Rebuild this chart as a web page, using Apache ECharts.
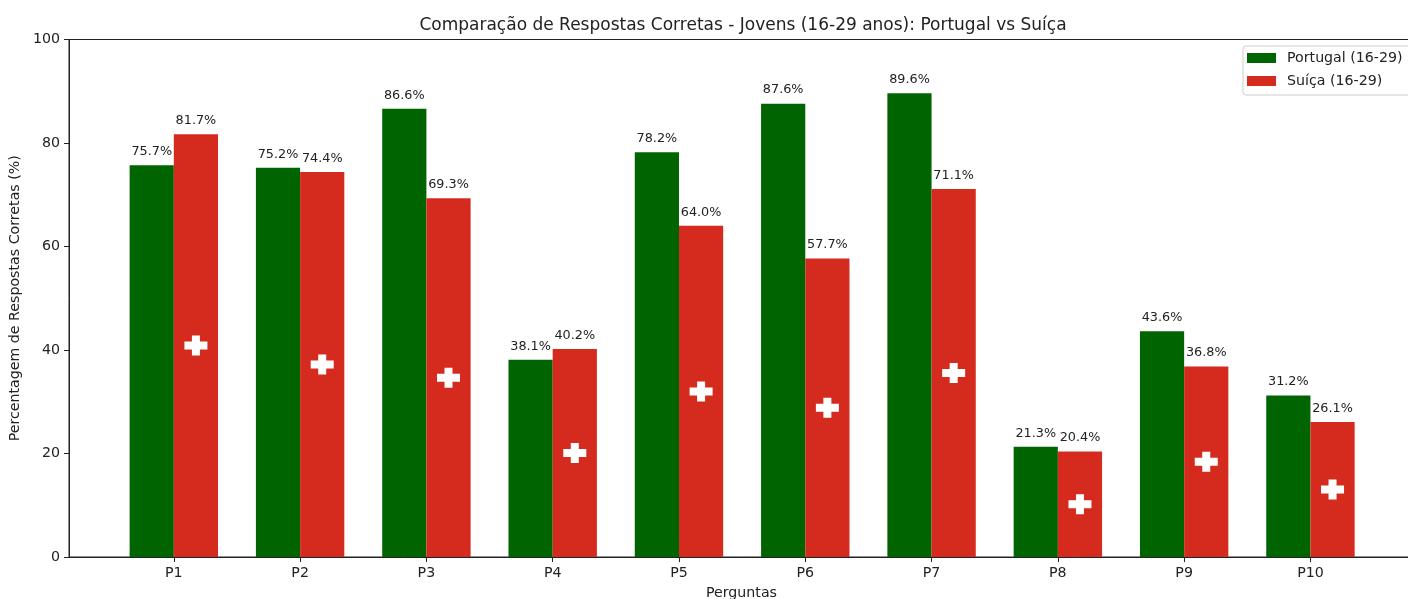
<!DOCTYPE html>
<html><head><meta charset="utf-8">
<style>html,body{margin:0;padding:0;background:#fff}#c{width:1408px;height:599px}</style>
<script src="https://cdn.jsdelivr.net/npm/echarts@6/dist/echarts.min.js"></script>
</head><body><div id="c"></div>
<script>
const categories = ['P1','P2','P3','P4','P5','P6','P7','P8','P9','P10'];
const portugal = [75.7,75.2,86.6,38.1,78.2,87.6,89.6,21.3,43.6,31.2];
const suica = [81.7,74.4,69.3,40.2,64.0,57.7,71.1,20.4,36.8,26.1];
const yTicks = [0,20,40,60,80,100];
const FONT = '"DejaVu Sans", sans-serif';
const GREEN = '#006400', RED = '#D52B1E', INK = '#222';
const BAR = 0.35;
const plus = 'path://M7.5,0H15.5V6H23V14H15.5V20H7.5V14H0V6H7.5Z';
const positions = categories.map((_, i) => i);

const chart = echarts.init(document.getElementById('c'), null, {renderer:'canvas'});
const lab = {show:true, position:'top', distance:7, color:INK, fontFamily:FONT, fontSize:12.8,
  formatter:p => p.value[1].toFixed(1) + '%'};
chart.setOption({
  animation:false,
  backgroundColor:'#fff',
  title:{text:'Comparação de Respostas Corretas - Jovens (16-29 anos): Portugal vs Suíça',
    left:738, top:12, textAlign:'center',
    textStyle:{fontFamily:FONT, fontSize:17, fontWeight:'normal', color:INK}},
  legend:{left:1243, top:46, orient:'vertical', data:['Portugal (16-29)','Suíça (16-29)'], icon:'rect',
    itemWidth:29, itemHeight:10, itemGap:9, padding:[5,12,7,4], borderColor:'#ccc', borderWidth:1, borderRadius:3,
    backgroundColor:'#fff', textStyle:{fontFamily:FONT, fontSize:14.2, color:INK, padding:[0,0,0,6]}},
  grid:{left:69, top:39.5, right:-6, bottom:42, show:true, borderColor:INK, borderWidth:1, outerBoundsMode:'none'},
  xAxis:{type:'value', min:-0.83, max:9.82, splitLine:{show:false},
    name:'Perguntas', nameLocation:'middle', nameGap:29,
    nameTextStyle:{fontFamily:FONT, fontSize:14.2, color:INK},
    axisLine:{show:true, onZero:false, lineStyle:{color:INK}},
    axisTick:{show:true, length:5, lineStyle:{color:INK}, customValues:positions},
    axisLabel:{color:INK, fontFamily:FONT, fontSize:14.2, margin:9, customValues:positions,
      formatter:v => categories[Math.round(v)]}},
  yAxis:{type:'value', min:0, max:100, interval:20, splitLine:{show:false},
    name:'Percentagem de Respostas Corretas (%)', nameLocation:'middle', nameGap:44,
    nameTextStyle:{fontFamily:FONT, fontSize:14.2, color:INK},
    axisLine:{show:true, onZero:false, lineStyle:{color:INK}},
    axisTick:{show:true, length:5, lineStyle:{color:INK}},
    axisLabel:{color:INK, fontFamily:FONT, fontSize:14.2, margin:9,
      formatter:v => yTicks.includes(v) ? String(v) : ''}},
  series:[
    {name:'Portugal (16-29)', type:'bar', barWidth:44.2, barGap:0, itemStyle:{color:GREEN},
     data:portugal.map((v,i)=>[i,v]), label:lab},
    {name:'Suíça (16-29)', type:'bar', barWidth:44.2, barGap:0, itemStyle:{color:RED},
     data:suica.map((v,i)=>[i,v]), label:lab},
    {name:'Cruz', type:'scatter', symbol:plus, symbolSize:[23,20], z:5, silent:true,
     itemStyle:{color:'#fff', opacity:1},
     data:suica.map((v,i)=>[i+BAR/2, v/2])}
  ]
});
</script></body></html>
